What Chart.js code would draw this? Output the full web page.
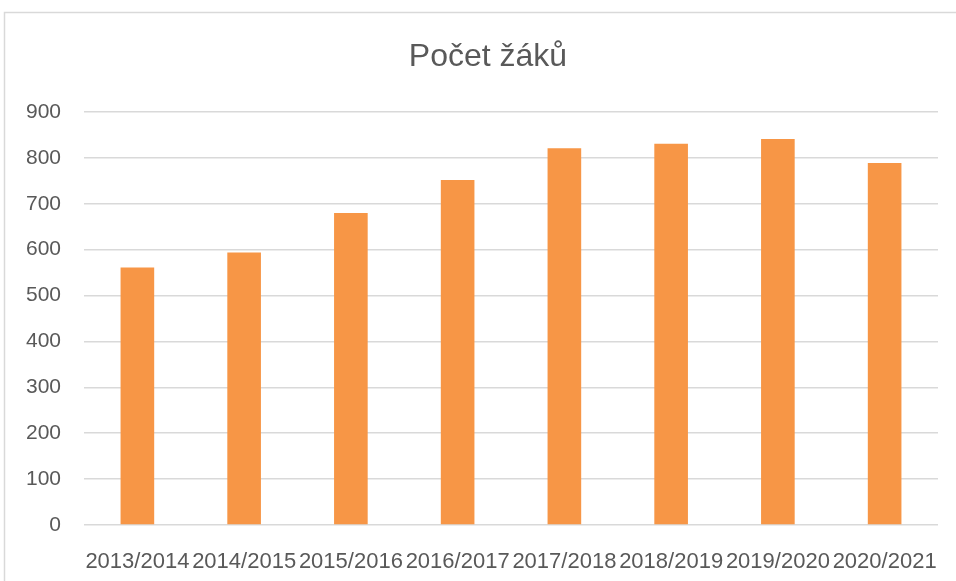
<!DOCTYPE html>
<html>
<head>
<meta charset="utf-8">
<script src="https://cdn.jsdelivr.net/npm/chart.js@4/dist/chart.umd.min.js"></script>
<style>
html,body{margin:0;padding:0;background:#fff;}
#wrap{width:956px;height:581px;position:relative;}
</style>
</head>
<body>
<div id="wrap"><canvas id="c" width="956" height="581"></canvas></div>
<script>
const categories = ["2013/2014","2014/2015","2015/2016","2016/2017","2017/2018","2018/2019","2019/2020","2020/2021"];
const pocetZaku = [561, 594, 680, 752, 821, 831, 841, 789];
const titleText = "Počet žáků";
const yMin = 0, yMax = 900, yStep = 100;

const borderPlugin = {
  id: 'outerBorder',
  beforeDraw(chart) {
    const ctx = chart.ctx;
    ctx.save();
    ctx.fillStyle = '#ffffff';
    ctx.fillRect(0, 0, chart.width, chart.height);
    ctx.strokeStyle = '#D9D9D9';
    ctx.lineWidth = 1.5;
    ctx.strokeRect(4.5, 12.5, 2000, 2000);
    ctx.restore();
  },
  afterLayout(chart) {
    // centre the title over the whole (wider) chart frame
    if (chart.titleBlock) {
      chart.titleBlock.left = 38;
    }
  }
};

new Chart(document.getElementById('c'), {
  type: 'bar',
  data: {
    labels: categories,
    datasets: [{
      label: titleText,
      data: pocetZaku,
      backgroundColor: '#F79646',
      borderWidth: 0,
      categoryPercentage: 0.315,
      barPercentage: 1
    }]
  },
  options: {
    responsive: false,
    animation: false,
    devicePixelRatio: 1,
    layout: { padding: { left: 4, right: 18, top: 0, bottom: 0 } },
    plugins: {
      legend: { display: false },
      tooltip: { enabled: false },
      title: {
        display: true,
        text: titleText,
        color: '#595959',
        font: { family: 'Liberation Sans', size: 32, weight: 'normal', lineHeight: 1.2 },
        padding: { top: 38, bottom: 35.6 }
      }
    },
    scales: {
      x: {
        grid: { display: false },
        border: { display: false },
        ticks: {
          color: '#595959',
          font: { family: 'Liberation Sans', size: 22 },
          autoSkip: false,
          maxRotation: 0,
          minRotation: 0,
          padding: 16
        },
        afterFit(scale) { scale.height = 56; }
      },
      y: {
        min: yMin,
        max: yMax,
        border: { display: false },
        grid: { color: '#D9D9D9', lineWidth: 1.5, drawTicks: false },
        ticks: {
          stepSize: yStep,
          color: '#595959',
          font: { family: 'Liberation Sans', size: 21 },
          padding: 23
        },
        afterFit(scale) { scale.width = 80; }
      }
    }
  },
  plugins: [borderPlugin]
});
</script>
</body>
</html>
